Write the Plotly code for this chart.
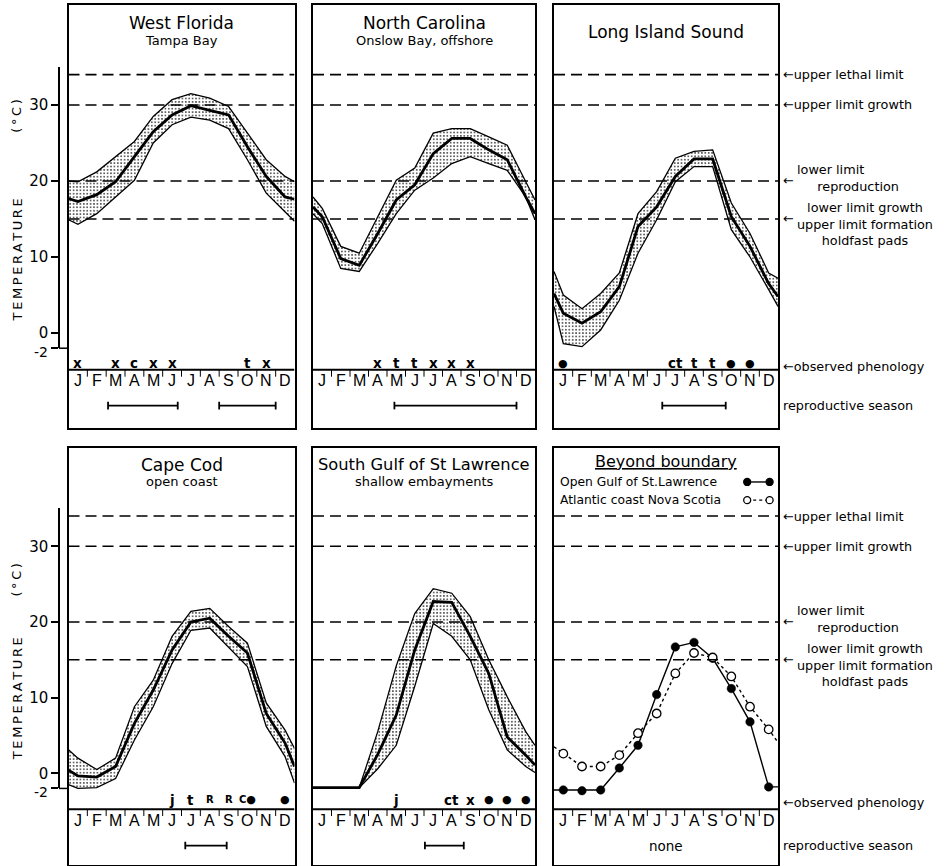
import plotly.graph_objects as go

W, H = 950, 866
FONT = 'DejaVu Sans'

# ---------------- data ----------------
MONTHS = ['J', 'F', 'M', 'A', 'M', 'J', 'J', 'A', 'S', 'O', 'N', 'D']
# left edge, 12 month centres, right edge (month units)
X_POS = [0.0, 0.5, 1.5, 2.5, 3.5, 4.5, 5.5, 6.5, 7.5, 8.5, 9.5, 10.5, 11.5, 12.0]

THRESHOLDS = [34, 30, 20, 15]

wf_mean = [17.7, 17.3, 18.2, 19.9, 23.2, 26.5, 28.7, 29.9, 29.3, 28.7, 24.5, 20.6, 17.9, 17.6]
wf_upper = [20.0, 19.9, 21.2, 23.2, 25.2, 28.5, 30.7, 31.5, 30.9, 29.8, 26.3, 22.8, 20.6, 19.9]
wf_lower = [14.9, 14.3, 15.7, 17.9, 20.1, 25.0, 27.4, 28.4, 28.0, 26.9, 22.8, 18.4, 16.0, 14.7]

nc_mean = [16.6, 15.3, 9.8, 8.9, 13.1, 17.5, 19.5, 23.6, 25.6, 25.6, 24.1, 22.8, 17.9, 15.7]
nc_upper = [17.9, 16.4, 11.4, 10.5, 15.3, 20.1, 21.7, 26.3, 26.9, 26.9, 25.8, 24.7, 19.9, 17.5]
nc_lower = [15.7, 14.4, 8.5, 8.1, 11.8, 15.7, 18.8, 20.4, 22.3, 23.2, 22.3, 21.4, 17.9, 14.9]

li_mean = [5.2, 2.6, 1.3, 2.8, 6.1, 14.0, 16.6, 20.6, 22.9, 22.9, 15.3, 11.4, 6.5, 4.8]
li_upper = [8.1, 5.0, 3.2, 5.2, 7.9, 15.7, 18.6, 23.0, 23.9, 24.1, 17.1, 13.1, 7.9, 7.2]
li_lower = [3.5, -1.4, -1.8, 0.4, 4.3, 10.5, 14.9, 19.9, 21.9, 21.9, 13.6, 10.0, 5.7, 3.5]

cc_mean = [0.4, -0.35, -0.5, 0.9, 6.6, 11.0, 16.3, 20.0, 20.5, 18.1, 15.9, 7.9, 4.0, 0.9]
cc_upper = [3.1, 2.0, 0.5, 2.0, 8.8, 12.3, 18.1, 21.4, 21.8, 19.4, 17.2, 9.3, 5.7, 3.3]
cc_lower = [-1.5, -2.0, -1.9, -0.7, 4.4, 8.8, 14.5, 18.9, 19.2, 16.7, 14.1, 6.2, 2.2, -1.3]

sg_mean = [-1.9, -1.9, -1.9, -1.9, 2.5, 7.7, 16.3, 22.7, 22.6, 18.1, 13.2, 4.8, 2.4, 1.1]
sg_upper = [-1.9, -1.9, -1.9, -1.9, 5.5, 14.2, 21.1, 24.4, 23.8, 20.7, 15.0, 10.1, 5.5, 3.7]
sg_lower = [-1.9, -1.9, -1.9, -1.9, 0.6, 3.7, 11.5, 19.8, 18.1, 15.0, 8.4, 3.1, 0.9, 0.1]

open_gulf = [-2.2, -2.2, -2.3, -2.2, 0.7, 3.7, 10.4, 16.7, 17.3, 15.2, 11.2, 6.8, -1.8, -1.8]
nova_scotia = [3.5, 2.6, 0.9, 0.9, 2.4, 5.3, 7.9, 13.2, 15.9, 15.3, 12.8, 8.8, 5.8, 4.1]

# observed phenology: (month index, symbol)
wf_phen = [(0, 'x'), (2, 'x'), (3, 'c'), (4, 'x'), (5, 'x'), (9, 't'), (10, 'x')]
nc_phen = [(3, 'x'), (4, 't'), (5, 't'), (6, 'x'), (7, 'x'), (8, 'x')]
li_phen = [(0, '●'), (6, 'ct'), (7, 't'), (8, 't'), (9, '●'), (10, '●')]
cc_phen = [(5, 'j'), (6, 't'), (7, 'R'), (8, 'R'), (9, 'C●'), (11, '●')]
sg_phen = [(4, 'j'), (7, 'ct'), (8, 'x'), (9, '●'), (10, '●'), (11, '●')]

# reproductive season (start, end in month units)
wf_repro = [(2.1, 5.8), (8.0, 11.0)]
nc_repro = [(4.4, 11.0)]
li_repro = [(5.8, 9.2)]
cc_repro = [(6.2, 8.4)]
sg_repro = [(6.05, 8.15)]

TITLES = ['West Florida', 'North Carolina', 'Long Island Sound',
          'Cape Cod', 'South Gulf of St Lawrence', 'Beyond boundary']
SUBTITLES = ['Tampa Bay', 'Onslow Bay, offshore', '', 'open coast', 'shallow embayments', '']
LEGEND_NAMES = ['Open Gulf of St.Lawrence', 'Atlantic coast Nova Scotia']
AXIS_TICKS = [-2, 0, 10, 20, 30]
AXIS_LABELS = ['', '0', '10', '20', '30']

# ---------------- layout geometry ----------------
COLS = [(68.5, 294.5), (313, 535), (554, 778)]
ROWS = [dict(top=5, bot=428, zero=333.0, scale=7.6, strip=-4.85, phen=-4.0, obs=-4.4,
             ttl=1.2, unit=28.6),
        dict(top=448, bot=865, zero=773.3, scale=7.567, strip=-4.75, phen=-3.5, obs=-3.9,
             ttl=1.4, unit=25.6)]
TITLE_SIZES = [17, 17, 17, 17, 16.3, 16]


def yrange(r):
    return [(r['zero'] - r['bot']) / r['scale'], (r['zero'] - r['top']) / r['scale']]


def t2paper(r, t):
    return 1 - (r['zero'] - r['scale'] * t) / H


def ann(text, x, y, xref, yref, size=12, xanchor='center', yanchor='middle', angle=0,
        family=FONT, align='center'):
    return dict(text=text, x=x, y=y, xref=xref, yref=yref, showarrow=False,
                font=dict(family=family, size=size, color='black'),
                xanchor=xanchor, yanchor=yanchor, textangle=angle, align=align)


bands = [(wf_mean, wf_upper, wf_lower), (nc_mean, nc_upper, nc_lower), (li_mean, li_upper, li_lower),
         (cc_mean, cc_upper, cc_lower), (sg_mean, sg_upper, sg_lower), None]
phens = [wf_phen, nc_phen, li_phen, cc_phen, sg_phen, None]
repros = [wf_repro, nc_repro, li_repro, cc_repro, sg_repro, None]

fig = go.Figure()
layout = dict(width=W, height=H, margin=dict(l=0, r=0, t=0, b=0, pad=0, autoexpand=False),
              autosize=False, template='none',
              paper_bgcolor='white', plot_bgcolor='rgba(0,0,0,0)', showlegend=False,
              font=dict(family=FONT, color='black'))
shapes = []
annotations = []

for k in range(6):
    r = ROWS[k // 3]
    c0, c1 = COLS[k % 3]
    s = '' if k == 0 else str(k + 1)
    xa, ya = 'x' + s, 'y' + s
    layout['xaxis' + s] = dict(domain=[c0 / W, c1 / W], range=[0, 12], anchor=ya, automargin=False,
                               showline=True, mirror=True, linecolor='black', linewidth=2,
                               showticklabels=False, ticks='', showgrid=False, zeroline=False,
                               fixedrange=True)
    layout['yaxis' + s] = dict(domain=[1 - r['bot'] / H, 1 - r['top'] / H], range=yrange(r),
                               anchor=xa, automargin=False,
                               showline=True, mirror=True, linecolor='black', linewidth=2,
                               showticklabels=False, ticks='', showgrid=False, zeroline=False,
                               fixedrange=True)

    # dashed threshold lines
    for t in THRESHOLDS:
        shapes.append(dict(type='line', xref=xa, yref=ya, x0=0, x1=12, y0=t, y1=t,
                           line=dict(color='black', width=1.6, dash='11px,6px')))
    # month strip
    shapes.append(dict(type='line', xref=xa, yref=ya, x0=0, x1=12, y0=r['strip'], y1=r['strip'],
                       line=dict(color='black', width=2)))
    for i in range(1, 12):
        shapes.append(dict(type='line', xref=xa, yref=ya, x0=i, x1=i, y0=r['strip'], y1=r['strip'] - 0.9,
                           line=dict(color='black', width=1)))
    for i, m in enumerate(MONTHS):
        annotations.append(ann(m, i + 0.5, -6.25, xa, ya, size=16, family='Liberation Sans'))

    # titles
    if k == 5:
        annotations.append(ann('<u>' + TITLES[k] + '</u>', 6, 41.2, xa, ya, size=TITLE_SIZES[k]))
    elif SUBTITLES[k]:
        annotations.append(ann(TITLES[k], 6, 40.8, xa, ya, size=TITLE_SIZES[k]))
        annotations.append(ann(SUBTITLES[k], 6, 38.5, xa, ya, size=13))
    else:
        annotations.append(ann(TITLES[k], 6, 39.6, xa, ya, size=TITLE_SIZES[k]))

    if bands[k] is not None:
        mean, upper, lower = bands[k]
        fig.add_trace(go.Scatter(x=X_POS, y=upper, xaxis=xa, yaxis=ya, mode='lines',
                                 line=dict(color='black', width=1.3), hoverinfo='skip'))
        fig.add_trace(go.Scatter(x=X_POS, y=lower, xaxis=xa, yaxis=ya, mode='lines', fill='tonexty',
                                 fillcolor='rgba(0,0,0,0)',
                                 fillpattern=dict(shape='.', fgcolor='#3a3a3a', bgcolor='white',
                                                  size=3.4, solidity=0.22),
                                 line=dict(color='black', width=1.3), hoverinfo='skip'))
        fig.add_trace(go.Scatter(x=X_POS, y=mean, xaxis=xa, yaxis=ya, mode='lines',
                                 line=dict(color='black', width=2.8), hoverinfo='skip'))
        for mi, sym in phens[k]:
            if sym == 'R':
                txt = '<span style="font-size:10px"><b>R</b></span>'
            elif sym == 'C●':
                txt = '<span style="font-size:10px"><b>C</b></span>●'
            elif '●' in sym:
                txt = sym
            else:
                txt = '<b>' + sym + '</b>'
            size = 11 if '●' in sym else 13.5
            annotations.append(ann(txt, mi + 0.5, r['phen'], xa, ya, size=size))
        for a, b in repros[k]:
            yb = -9.55
            shapes.append(dict(type='line', xref=xa, yref=ya, x0=a, x1=b, y0=yb, y1=yb,
                               line=dict(color='black', width=1.8)))
            for e in (a, b):
                shapes.append(dict(type='line', xref=xa, yref=ya, x0=e, x1=e, y0=yb - 0.5, y1=yb + 0.5,
                                   line=dict(color='black', width=1.8)))
    else:
        marker_sizes = [0] + [8.5] * 12 + [0]
        fig.add_trace(go.Scatter(x=X_POS, y=open_gulf, xaxis=xa, yaxis=ya, mode='lines+markers',
                                 line=dict(color='black', width=1.4),
                                 marker=dict(color='black', size=marker_sizes, opacity=1,
                                             line=dict(color='black', width=0.5)),
                                 hoverinfo='skip'))
        fig.add_trace(go.Scatter(x=X_POS, y=nova_scotia, xaxis=xa, yaxis=ya, mode='lines+markers',
                                 line=dict(color='black', width=1.4, dash='dot'),
                                 marker=dict(color='white', size=marker_sizes, opacity=1,
                                             line=dict(color='black', width=1.3)),
                                 hoverinfo='skip'))
        annotations.append(ann('none', 6, -9.6, xa, ya, size=13.5))
        # legend text + samples
        for j, (nm, yy) in enumerate(zip(LEGEND_NAMES, [38.5, 36.1])):
            annotations.append(ann(nm, 0.2, yy, xa, ya, size=12.3, xanchor='left'))
            shapes.append(dict(type='line', xref=xa, yref=ya, x0=10.35, x1=11.55, y0=yy, y1=yy,
                               line=dict(color='black', width=1.4, dash='solid' if j == 0 else 'dot')))
            for ex in (10.35, 11.55):
                shapes.append(dict(type='circle', xref=xa, yref=ya, xsizemode='pixel', ysizemode='pixel',
                                   xanchor=ex, yanchor=yy, x0=-3.5, x1=3.5, y0=-3.5, y1=3.5,
                                   fillcolor='black' if j == 0 else 'white',
                                   line=dict(color='black', width=1.3)))

# ---------------- left temperature axes + right-hand labels ----------------
for j, r in enumerate(ROWS):
    name = 'yaxis' + str(7 + j)
    xa = 'x' if j == 0 else 'x4'
    layout[name] = dict(domain=[t2paper(r, -2), t2paper(r, 35)], range=[-2, 35], anchor='free',
                        position=59 / W, side='left', showline=True, linecolor='black', linewidth=1.5,
                        automargin=False,
                        ticks='outside', ticklen=7, tickwidth=1.5, tickcolor='black',
                        tickvals=AXIS_TICKS, ticktext=AXIS_LABELS,
                        tickfont=dict(family=FONT, size=15, color='black'),
                        showgrid=False, zeroline=False, fixedrange=True)
    fig.add_trace(go.Scatter(x=[None], y=[None], xaxis=xa, yaxis='y' + str(7 + j), mode='lines',
                             hoverinfo='skip'))
    shapes.append(dict(type='line', xref='paper', yref='paper', x0=59 / W, x1=COLS[0][0] / W,
                       y0=t2paper(r, -2), y1=t2paper(r, -2), line=dict(color='black', width=1.5)))
    # "-2" label placed just below its tick so it does not collide with "0"
    annotations.append(ann(str(AXIS_TICKS[0]), 50 / W, t2paper(r, -2) - 4 / H, 'paper', 'paper',
                           size=14, xanchor='right'))
    # y-axis title
    ttl = '\u2009'.join('TEMPERATURE')
    annotations.append(ann(ttl, 17 / W, t2paper(r, r['ttl']), 'paper', 'paper',
                           size=13, angle=-90, yanchor='bottom'))
    annotations.append(ann('(\u2009°\u2009C\u2009)', 17 / W, t2paper(r, r['unit']), 'paper', 'paper',
                           size=13, angle=-90))

    # right-side labels
    ya = 'y3' if j == 0 else 'y6'
    xl = 781 / W
    xt = 795 / W
    fs = 12.8
    annotations.append(ann('←upper lethal limit', xl, 34, 'paper', ya, size=fs, xanchor='left'))
    annotations.append(ann('←upper limit growth', xl, 30, 'paper', ya, size=fs, xanchor='left'))
    annotations.append(ann('←', xl, 20, 'paper', ya, size=fs, xanchor='left'))
    annotations.append(ann('lower limit<br>\u00a0\u00a0\u00a0\u00a0\u00a0reproduction', xt, 20.35,
                           'paper', ya, size=fs, xanchor='left', align='left'))
    annotations.append(ann('←', xl, 15, 'paper', ya, size=fs, xanchor='left'))
    annotations.append(ann('lower limit growth<br>upper limit formation<br>holdfast pads', xt, 14.3,
                           'paper', ya, size=fs, xanchor='left', align='center'))
    annotations.append(ann('←observed phenology', xl, r['obs'], 'paper', ya, size=fs, xanchor='left'))
    annotations.append(ann('reproductive season', xl, -9.5, 'paper', ya, size=fs, xanchor='left'))

layout['shapes'] = shapes
layout['annotations'] = annotations
fig.update_layout(**layout)

POST = ("var s=document.createElement('style');"
        "s.innerHTML='html,body{margin:0;padding:0;overflow:hidden;height:866px;}"
        ".plotly-graph-div{display:block;}';"
        "document.head.appendChild(s);")
fig.write_html('out.html', config={'displayModeBar': False}, post_script=POST)
